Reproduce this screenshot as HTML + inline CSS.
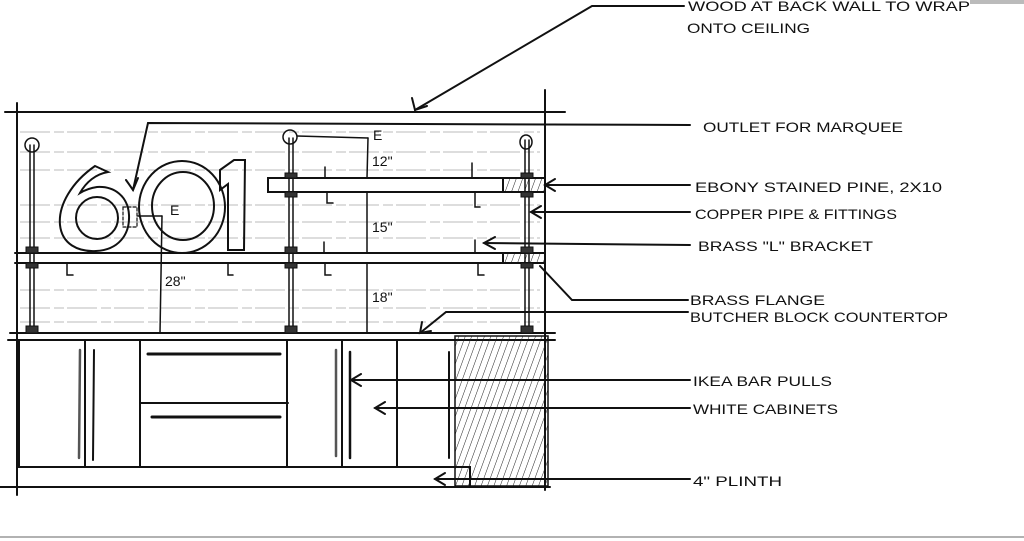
<!DOCTYPE html>
<html><head><meta charset="utf-8"><style>
html,body{margin:0;padding:0;background:#fff;}
svg{display:block;}
text{font-family:"Liberation Sans",sans-serif;font-size:14px;fill:#111;}
</style></head><body>
<svg width="1024" height="541" viewBox="0 0 1024 541" xmlns="http://www.w3.org/2000/svg">
<defs>
<pattern id="h" width="6" height="6" patternUnits="userSpaceOnUse" patternTransform="rotate(20)">
<line x1="0" y1="0" x2="0" y2="6" stroke="#222" stroke-width="1"/>
</pattern>
</defs>
<rect x="970" y="0" width="54" height="4" fill="#bbb"/>
<line x1="0" y1="537" x2="1024" y2="537" stroke="#999" stroke-width="1.5"/>

<!-- faint wood lines -->
<g stroke="#bbb" stroke-width="1" stroke-dasharray="30 4 10 3">
<line x1="20" y1="132" x2="540" y2="132"/>
<line x1="20" y1="152" x2="540" y2="152"/>
<line x1="20" y1="170" x2="540" y2="170"/>
<line x1="20" y1="205" x2="540" y2="205"/>
<line x1="20" y1="222" x2="540" y2="222"/>
<line x1="20" y1="238" x2="540" y2="238"/>
<line x1="20" y1="290" x2="540" y2="290"/>
<line x1="20" y1="308" x2="540" y2="308"/>
<line x1="20" y1="322" x2="540" y2="322"/>
</g>

<g stroke="#111" stroke-width="2" fill="none" stroke-linecap="round">
<line x1="5" y1="112" x2="565" y2="112"/>
<line x1="17" y1="103" x2="17" y2="495"/>
<line x1="545" y1="90" x2="545" y2="490"/>
<polyline points="690,125 148,123 133,190"/>
<polyline points="126,180 133,190 138,178"/>
<polyline points="684,6 592,6 415,110"/>
<polyline points="412,98 415,110 427,106"/>
<rect x="268" y="178" width="277" height="14"/>
<rect x="503" y="178" width="42" height="14" fill="url(#h)"/>
<line x1="15" y1="253" x2="545" y2="253"/>
<line x1="15" y1="263" x2="545" y2="263"/>
<rect x="503" y="253" width="42" height="10" fill="url(#h)"/>
<line x1="10" y1="333" x2="555" y2="333"/>
<line x1="8" y1="340" x2="555" y2="340"/>
<line x1="19" y1="340" x2="19" y2="467"/>
<line x1="85" y1="340" x2="85" y2="467"/>
<line x1="140" y1="340" x2="140" y2="467"/>
<line x1="287" y1="340" x2="287" y2="467"/>
<line x1="342" y1="340" x2="342" y2="467"/>
<line x1="397" y1="340" x2="397" y2="467"/>
<line x1="140" y1="403" x2="288" y2="403"/>
<line x1="17" y1="467" x2="470" y2="467"/>
<line x1="0" y1="487" x2="550" y2="487"/>
<rect x="455" y="336" width="93" height="150" fill="url(#h)" stroke-width="1.5"/>
<polyline points="455,467 470,467 470,487"/>
<line x1="148" y1="354" x2="280" y2="354" stroke-width="3"/>
<line x1="152" y1="417" x2="280" y2="417" stroke-width="3"/>
<line x1="80" y1="350" x2="79" y2="458" stroke="#555" stroke-width="2.5"/>
<line x1="94" y1="350" x2="93" y2="460"/>
<line x1="336" y1="350" x2="336" y2="456" stroke="#555" stroke-width="2.5"/>
<line x1="350" y1="352" x2="350" y2="458" stroke-width="2.5"/>
<line x1="449" y1="352" x2="449" y2="458"/>
<g stroke-width="1.5">
<line x1="30" y1="145" x2="30" y2="330"/><line x1="34" y1="145" x2="34" y2="330"/>
<line x1="289" y1="138" x2="289" y2="330"/><line x1="293" y1="138" x2="293" y2="330"/>
<line x1="525" y1="140" x2="525" y2="330"/><line x1="529" y1="140" x2="529" y2="330"/>
<ellipse cx="32" cy="145" rx="7" ry="7"/>
<ellipse cx="290" cy="137" rx="7" ry="7"/>
<ellipse cx="526" cy="142" rx="6" ry="7"/>
</g>
<g fill="#333" stroke-width="1">
<rect x="26" y="247" width="12" height="6"/><rect x="26" y="263" width="12" height="5"/><rect x="26" y="326" width="12" height="7"/>
<rect x="285" y="173" width="12" height="5"/><rect x="285" y="192" width="12" height="5"/><rect x="285" y="247" width="12" height="6"/><rect x="285" y="263" width="12" height="5"/><rect x="285" y="326" width="12" height="7"/>
<rect x="521" y="173" width="12" height="5"/><rect x="521" y="192" width="12" height="5"/><rect x="521" y="247" width="12" height="6"/><rect x="521" y="263" width="12" height="5"/><rect x="521" y="326" width="12" height="7"/>
</g>
<g stroke-width="1.5">
<polyline points="325,167 325,178 330,178"/><polyline points="327,192 327,203 333,203"/>
<polyline points="472,163 472,178 478,178"/><polyline points="475,192 475,207 480,207"/>
<polyline points="67,263 67,275 73,275"/><polyline points="228,263 228,275 233,275"/>
<polyline points="324,242 324,253 330,253"/><polyline points="325,263 325,275 331,275"/>
<polyline points="475,240 475,253 481,253"/><polyline points="478,263 478,275 484,275"/>
</g>
<!-- 601 -->
<path d="M95,166 C72,182 58,205 60,225 C62,244 78,252 96,251 C118,250 130,235 129,215 C128,196 114,186 97,187 C90,188 85,190 80,193 C86,182 96,174 108,172 Z"/>
<ellipse cx="97" cy="218" rx="21" ry="21"/>
<ellipse cx="182" cy="207" rx="43" ry="46"/>
<ellipse cx="183" cy="206" rx="31" ry="34"/>
<path d="M220,170 L234,160 L245,160 L244,250 L228,250 L228,184 L220,190 Z"/>
<rect x="123" y="207" width="14" height="20" stroke-dasharray="3 2" stroke-width="1.2"/>
<line x1="138" y1="216" x2="162" y2="216" stroke-width="1.5"/>
<line x1="162" y1="216" x2="160" y2="333" stroke-width="1.5"/>
<line x1="368" y1="138" x2="367" y2="178" stroke-width="1.5"/>
<line x1="367" y1="192" x2="367" y2="253" stroke-width="1.5"/>
<line x1="367" y1="263" x2="367" y2="333" stroke-width="1.5"/>
<line x1="297" y1="136" x2="368" y2="138" stroke-width="1.5"/>
<line x1="690" y1="185" x2="545" y2="185"/><polyline points="555,179 545,185 555,191"/>
<line x1="690" y1="212" x2="531" y2="212"/><polyline points="541,206 531,212 541,218"/>
<line x1="690" y1="245" x2="484" y2="243"/><polyline points="495,237 484,243 495,249"/>
<polyline points="688,300 572,300 540,266"/>
<polyline points="688,312 446,312 420,333"/><polyline points="422,322 420,333 431,331"/>
<line x1="690" y1="380" x2="351" y2="380"/><polyline points="361,374 351,380 361,386"/>
<line x1="690" y1="408" x2="375" y2="408"/><polyline points="385,402 375,408 385,414"/>
<line x1="690" y1="479" x2="435" y2="479"/><polyline points="445,473 435,479 445,485"/>
</g>

<text x="373" y="140" font-size="12">E</text>
<text x="170" y="215" font-size="12">E</text>
<text x="372" y="166" font-size="11">12"</text>
<text x="372" y="232" font-size="11">15"</text>
<text x="165" y="286" font-size="11">28"</text>
<text x="372" y="302" font-size="11">18"</text>

<text x="688" y="11" textLength="282" lengthAdjust="spacingAndGlyphs">WOOD AT BACK WALL TO WRAP</text>
<text x="687" y="33" textLength="123" lengthAdjust="spacingAndGlyphs">ONTO CEILING</text>
<text x="703" y="132" textLength="200" lengthAdjust="spacingAndGlyphs">OUTLET FOR MARQUEE</text>
<text x="695" y="192" textLength="247" lengthAdjust="spacingAndGlyphs">EBONY STAINED PINE, 2X10</text>
<text x="695" y="219" textLength="202" lengthAdjust="spacingAndGlyphs">COPPER PIPE &amp; FITTINGS</text>
<text x="698" y="251" textLength="175" lengthAdjust="spacingAndGlyphs">BRASS "L" BRACKET</text>
<text x="690" y="305" textLength="135" lengthAdjust="spacingAndGlyphs">BRASS FLANGE</text>
<text x="690" y="322" textLength="258" lengthAdjust="spacingAndGlyphs">BUTCHER BLOCK COUNTERTOP</text>
<text x="693" y="386" textLength="139" lengthAdjust="spacingAndGlyphs">IKEA BAR PULLS</text>
<text x="693" y="414" textLength="145" lengthAdjust="spacingAndGlyphs">WHITE CABINETS</text>
<text x="693" y="486" textLength="89" lengthAdjust="spacingAndGlyphs">4" PLINTH</text>
</svg>
</body></html>
